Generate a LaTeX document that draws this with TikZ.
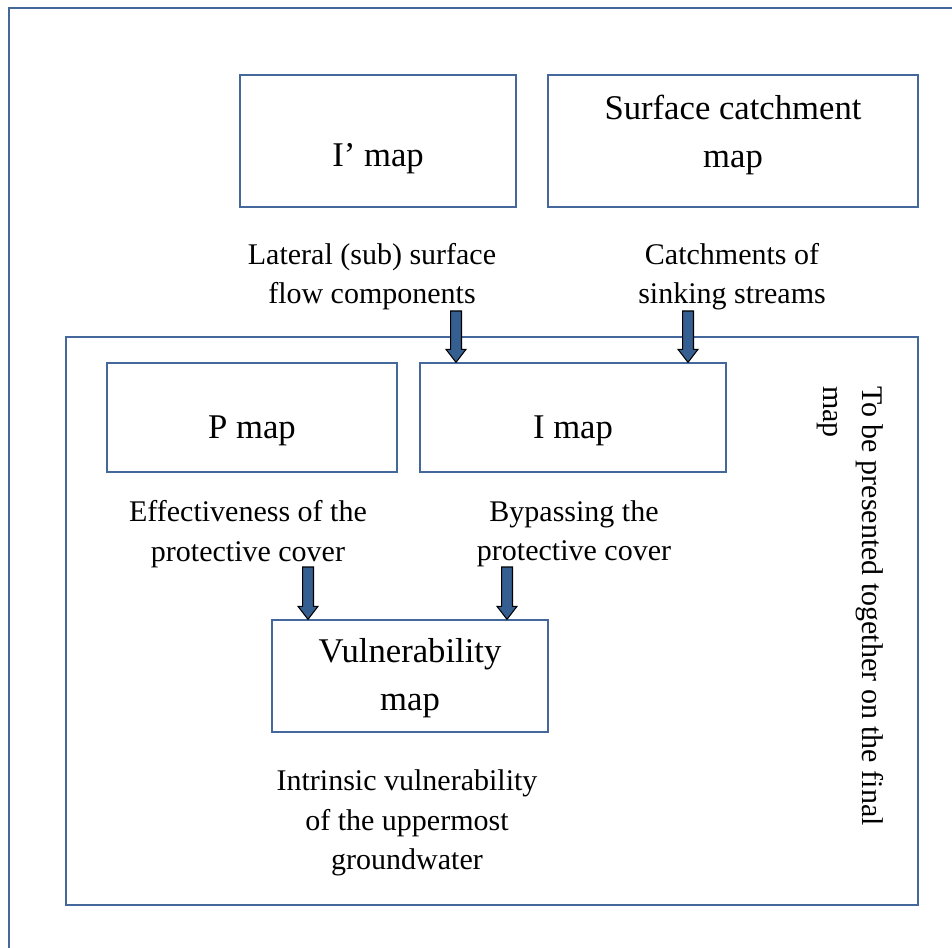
\documentclass[tikz,border=0pt]{standalone}
\usepackage{fontspec}
\setmainfont{Liberation Serif}
\usetikzlibrary{calc}

\definecolor{framecol}{RGB}{68,104,156}
\definecolor{arrowcol}{RGB}{54,95,145}

\tikzset{
  mapbox/.style={draw=framecol, line width=1pt, inner sep=0pt},
  boxtext/.style={align=center, inner sep=0pt, font=\fontsize{26}{36}\selectfont},
  note/.style={align=center, inner sep=0pt, font=\fontsize{22.5}{29.5}\selectfont},
  blockarrow/.style={draw=black, fill=arrowcol, line width=0.8pt,
    to path={let \p1=(\tikztostart), \p2=(\tikztotarget) in
      (\x1-4.1pt,\y1) -- (\x1+4.1pt,\y1) -- (\x1+4.1pt,\y2+9.75pt) -- (\x1+7.5pt,\y2+9.75pt)
      -- (\x1,\y2) -- (\x1-7.5pt,\y2+9.75pt) -- (\x1-4.1pt,\y2+9.75pt) -- cycle}}
}

\begin{document}
\begin{tikzpicture}[x=0.75pt, y=-0.75pt]
  \clip (0,0) rectangle (952,948);
  \draw[framecol, line width=1.5pt] (9,8) rectangle (1000,1000);

  % top row
  \node[mapbox, minimum width=207pt, minimum height=99pt] (iprime) at (378,141) {};
  \node[boxtext] (iprimetxt) at ($(iprime.center)+(0,18)$) {I’ map};
  \node[mapbox, minimum width=277.5pt, minimum height=99pt] (catch) at (733,141) {};
  \node[boxtext] (catchtxt) at ($(catch.center)+(0,-6)$) {Surface catchment\\map};
  \node[note] (lateral) at (372,276.5) {Lateral (sub) surface\\flow components};
  \node[note] (sinking) at (732,276.5) {Catchments of\\sinking streams};

  % final map panel
  \node[draw=framecol, line width=1pt, minimum width=639pt, minimum height=426pt, inner sep=0pt] (panel) at (492,621) {};
  \node[mapbox, minimum width=217.5pt, minimum height=81.75pt] (pmap) at (252,417.5) {};
  \node[boxtext] (pmaptxt) at ($(pmap.center)+(0,13)$) {P map};
  \node[mapbox, minimum width=229.5pt, minimum height=81.75pt] (imap) at (573,417.5) {};
  \node[boxtext] (imaptxt) at ($(imap.center)+(0,13)$) {I map};
  \node[note] (effect) at (248,534) {Effectiveness of the\\protective cover};
  \node[note] (bypass) at (574,534) {Bypassing the\\protective cover};
  \node[mapbox, minimum width=207pt, minimum height=84pt] (vmap) at (410,676) {};
  \node[boxtext] (vmaptxt) at ($(vmap.center)+(0,2)$) {Vulnerability\\map};
  \node[note] (intrinsic) at (407,823) {Intrinsic vulnerability\\of the uppermost\\groundwater};
  \node[note, align=left, rotate=-90, anchor=north west] (together) at (884,386)
    {To be presented together on the final\\map};

  % arrows
  \coordinate (a1) at (456,311);
  \coordinate (a2) at (688,311);
  \coordinate (a3) at (308,567);
  \coordinate (a4) at (507,567);
  \coordinate (t1) at (a1 |- imap.north);
  \coordinate (t2) at (a2 |- imap.north);
  \coordinate (t3) at (a3 |- vmap.north);
  \coordinate (t4) at (a4 |- vmap.north);
  \draw[blockarrow] (a1) to (t1);
  \draw[blockarrow] (a2) to (t2);
  \draw[blockarrow] (a3) to (t3);
  \draw[blockarrow] (a4) to (t4);
\end{tikzpicture}
\end{document}
